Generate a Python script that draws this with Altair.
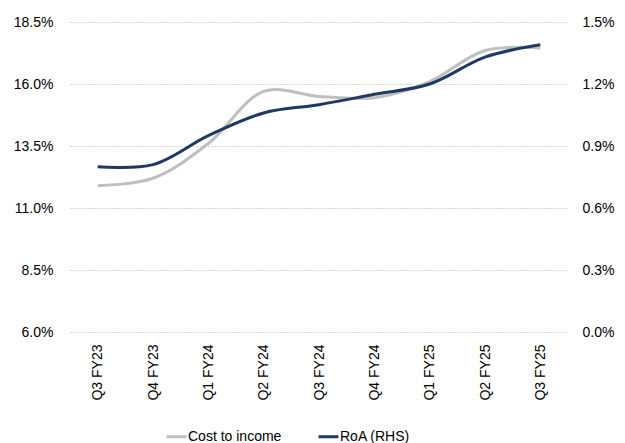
import altair as alt
import pandas as pd

quarters = ["Q3 FY23", "Q4 FY23", "Q1 FY24", "Q2 FY24", "Q3 FY24",
            "Q4 FY24", "Q1 FY25", "Q2 FY25", "Q3 FY25"]
cost_to_income = [11.9, 12.2, 13.6, 15.7, 15.5, 15.45, 16.1, 17.35, 17.45]
roa = [0.80, 0.81, 0.95, 1.06, 1.10, 1.15, 1.20, 1.33, 1.39]

df = pd.DataFrame({"quarter": quarters, "cost": cost_to_income, "roa": roa})

FONT = "Liberation Sans"
GRAY = "#bfbfbf"
BLUE = "#203864"

color_scale = alt.Scale(domain=["Cost to income", "RoA (RHS)"], range=[GRAY, BLUE])
legend = alt.Legend(title=None, orient="none", direction="horizontal",
                    legendX=95, legendY=403,
                    symbolType="stroke", symbolSize=400,
                    symbolStrokeWidth=3, labelOffset=0,
                    columnPadding=30,
                    labelFontSize=14, labelFont=FONT,
                    labelColor="#000000")

x_enc = alt.X("quarter:N", sort=quarters, title=None,
              scale=alt.Scale(paddingOuter=0.5, paddingInner=0),
              axis=alt.Axis(labelAngle=-90, labelPadding=12, ticks=False, domain=False,
                            grid=False,
                            labelFontSize=14, labelFont=FONT, labelColor="#000000"))

base = alt.Chart(df)

left = base.transform_calculate(series="'Cost to income'").mark_line(
    interpolate="catmull-rom", strokeWidth=3).encode(
    x=x_enc,
    y=alt.Y("cost:Q", title=None,
            scale=alt.Scale(domain=[6, 18.5], nice=False, zero=False),
            axis=alt.Axis(values=[6, 8.5, 11, 13.5, 16, 18.5],
                          labelExpr="format(datum.value, '.1f') + '%'",
                          ticks=False, domain=False, labelPadding=17,
                          labelFontSize=14, labelFont=FONT, labelColor="#000000",
                          grid=True, gridColor="#b0b0b0", gridDash=[1, 2], gridWidth=1)),
    color=alt.Color("series:N", scale=color_scale, legend=legend),
)

right = base.transform_calculate(series="'RoA (RHS)'").mark_line(
    interpolate="catmull-rom", strokeWidth=3).encode(
    x=x_enc,
    y=alt.Y("roa:Q", title=None,
            scale=alt.Scale(domain=[0, 1.5], nice=False),
            axis=alt.Axis(orient="right", values=[0, 0.3, 0.6, 0.9, 1.2, 1.5],
                          labelExpr="format(datum.value, '.1f') + '%'",
                          ticks=False, domain=False, labelPadding=14, grid=False,
                          labelFontSize=14, labelFont=FONT, labelColor="#000000")),
    color=alt.Color("series:N", scale=color_scale, legend=legend),
)

chart = alt.layer(left, right).resolve_scale(y="independent").properties(
    width=498, height=310,
    background="white",
    autosize=alt.AutoSizeParams(type="none"),
    padding={"left": 70, "top": 22, "right": 57, "bottom": 111},
).configure_view(strokeWidth=0, stroke="transparent").configure_axis(
    domain=False).configure_axisX(grid=False)

chart.save("out.html", embed_options={"renderer": "svg", "actions": False})
